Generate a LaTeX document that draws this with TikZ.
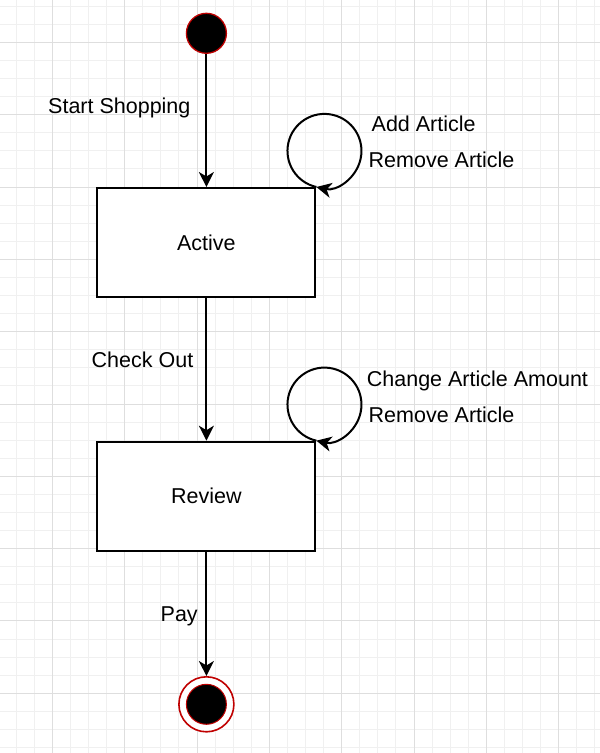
\documentclass[tikz,border=0pt]{standalone}
\usepackage{fontspec}
\setmainfont{Liberation Sans}
\usetikzlibrary{arrows.meta}
\definecolor{ringred}{HTML}{C00000}
\tikzset{
  minorgrid/.style={draw=black!6, line width=0.8pt},
  majorgrid/.style={draw=black!13, line width=0.9pt},
  statebox/.style={draw=black, line width=2pt, fill=white, minimum width=218pt, minimum height=109pt, inner sep=0pt, font=\fontsize{21.5pt}{26pt}\selectfont},
  lbl/.style={anchor=base west, inner sep=0pt, font=\fontsize{21.5pt}{26pt}\selectfont},
  arr/.style={line width=2pt, -{Stealth[length=15pt, width=15pt, inset=4.5pt]}},
  startdot/.style={circle, fill=black, draw=ringred, line width=1.3pt, minimum size=40pt, inner sep=0pt},
  endring/.style={circle, fill=white, draw=ringred, line width=1.6pt, minimum size=55pt, inner sep=0pt},
  enddot/.style={circle, fill=black, draw=ringred, line width=1pt, minimum size=40pt, inner sep=0pt}
}
\begin{document}
\begin{tikzpicture}[x=1pt, y=-1pt]
\useasboundingbox (0,0) rectangle (600,753);
\fill[white] (0,0) rectangle (600,753);
% grid
\foreach \i in {-2,...,30} {
  \draw[minorgrid] ({52.3+18.08*\i},0) -- ({52.3+18.08*\i},753);
}
\foreach \i in {-2,...,39} {
  \draw[minorgrid] (0,{42.3+18.08*\i}) -- (600,{42.3+18.08*\i});
}
\foreach \i in {0,...,7} {
  \draw[majorgrid] ({52.3+72.33*\i},0) -- ({52.3+72.33*\i},753);
}
\foreach \i in {0,...,9} {
  \draw[majorgrid] (0,{42.3+72.33*\i}) -- (600,{42.3+72.33*\i});
}
% nodes
\node[startdot] (start) at (206.4,33.3) {};
\node[statebox] (active) at (206.4,242.5) {Active};
\node[statebox] (review) at (206.4,496.2) {Review};
\node[endring] (end) at (206.4,704.3) {};
\node[enddot] (endin) at (end.center) {};
% labels
\node[lbl] (l1) at (48,113.7) {Start Shopping};
\node[lbl] (l2) at (371.5,131.7) {Add Article};
\node[lbl] (l3) at (368.5,167.5) {Remove Article};
\node[lbl] (l4) at (91.5,367.7) {Check Out};
\node[lbl] (l5) at (366.7,386) {Change Article Amount};
\node[lbl] (l6) at (368.5,422.5) {Remove Article};
\node[lbl] (l7) at (160.5,621.7) {Pay};
% connectors
\draw[arr] (start) -- (active);
\draw[arr] (active) -- (review);
\draw[arr] (review) -- (end);
\draw[arr] (active.north east) arc[start angle=257.4, end angle=-102.6, radius=37pt];
\draw[arr] (review.north east) arc[start angle=257.4, end angle=-102.6, radius=37pt];
\end{tikzpicture}
\end{document}
